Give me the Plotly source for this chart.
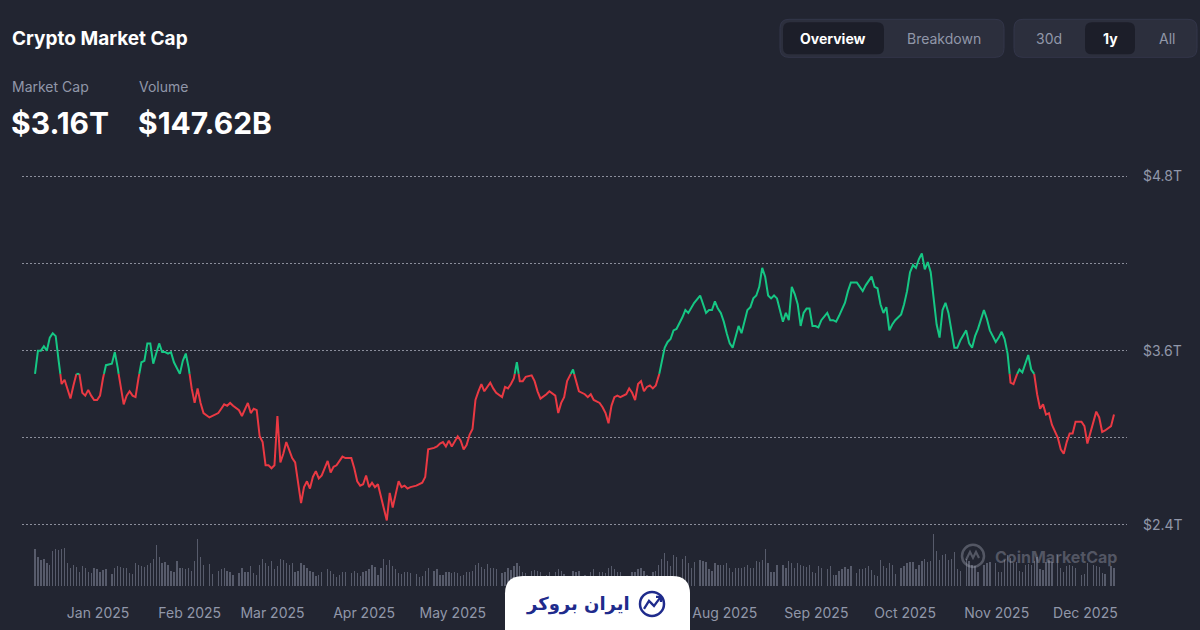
import pandas as pd
import plotly.graph_objects as go

# ---------------- data ----------------
DATES = [
    # Dec 2024
    "2024-12-10", "2024-12-11", "2024-12-12", "2024-12-13", "2024-12-14", "2024-12-15", "2024-12-16",
    "2024-12-17", "2024-12-18", "2024-12-19", "2024-12-20", "2024-12-21", "2024-12-22", "2024-12-23",
    "2024-12-24", "2024-12-25", "2024-12-26", "2024-12-27", "2024-12-28", "2024-12-29", "2024-12-30",
    "2024-12-31",
    # Jan 2025
    "2025-01-01", "2025-01-02", "2025-01-03", "2025-01-05", "2025-01-06", "2025-01-07", "2025-01-08",
    "2025-01-09", "2025-01-10", "2025-01-11", "2025-01-12", "2025-01-13", "2025-01-14", "2025-01-15",
    "2025-01-16", "2025-01-17", "2025-01-18", "2025-01-19", "2025-01-20", "2025-01-21", "2025-01-22",
    "2025-01-23", "2025-01-24", "2025-01-25", "2025-01-26", "2025-01-27", "2025-01-28", "2025-01-29",
    "2025-01-30", "2025-01-31",
    # Feb 2025
    "2025-02-01", "2025-02-02", "2025-02-03", "2025-02-04", "2025-02-05", "2025-02-07", "2025-02-08",
    "2025-02-10", "2025-02-11", "2025-02-12", "2025-02-13", "2025-02-14", "2025-02-15", "2025-02-17",
    "2025-02-18", "2025-02-19", "2025-02-20", "2025-02-21", "2025-02-22", "2025-02-23", "2025-02-24",
    "2025-02-25", "2025-02-26", "2025-02-27", "2025-02-28",
    # Mar 2025
    "2025-03-01", "2025-03-02", "2025-03-03", "2025-03-04", "2025-03-05", "2025-03-06", "2025-03-07",
    "2025-03-08", "2025-03-09", "2025-03-10", "2025-03-11", "2025-03-12", "2025-03-13", "2025-03-14",
    "2025-03-15", "2025-03-16", "2025-03-17", "2025-03-19", "2025-03-20", "2025-03-21", "2025-03-22",
    "2025-03-23", "2025-03-24", "2025-03-25", "2025-03-27", "2025-03-28", "2025-03-29", "2025-03-30",
    "2025-03-31",
    # Apr 2025
    "2025-04-01", "2025-04-02", "2025-04-03", "2025-04-04", "2025-04-05", "2025-04-06", "2025-04-07",
    "2025-04-08", "2025-04-09", "2025-04-10", "2025-04-11", "2025-04-12", "2025-04-13", "2025-04-14",
    "2025-04-15", "2025-04-16", "2025-04-18", "2025-04-19", "2025-04-20", "2025-04-21", "2025-04-22",
    "2025-04-24", "2025-04-25", "2025-04-26", "2025-04-27", "2025-04-28", "2025-04-29", "2025-04-30",
    # May 2025
    "2025-05-01", "2025-05-02", "2025-05-03", "2025-05-04", "2025-05-05", "2025-05-06", "2025-05-07",
    "2025-05-08", "2025-05-09", "2025-05-10", "2025-05-11", "2025-05-12", "2025-05-13", "2025-05-14",
    "2025-05-15", "2025-05-17", "2025-05-18", "2025-05-19", "2025-05-20", "2025-05-21", "2025-05-22",
    "2025-05-23", "2025-05-24", "2025-05-25", "2025-05-27", "2025-05-28", "2025-05-29", "2025-05-30",
    # Jun 2025
    "2025-06-01", "2025-06-02", "2025-06-04", "2025-06-05", "2025-06-06", "2025-06-07", "2025-06-08",
    "2025-06-10", "2025-06-11", "2025-06-12", "2025-06-14", "2025-06-15", "2025-06-16", "2025-06-17",
    "2025-06-19", "2025-06-20", "2025-06-21", "2025-06-22", "2025-06-23", "2025-06-24", "2025-06-25",
    "2025-06-26", "2025-06-28", "2025-06-29", "2025-06-30",
    # Jul 2025
    "2025-07-01", "2025-07-02", "2025-07-03", "2025-07-04", "2025-07-05", "2025-07-06", "2025-07-07",
    "2025-07-08", "2025-07-09", "2025-07-10", "2025-07-11", "2025-07-12", "2025-07-13", "2025-07-14",
    "2025-07-15", "2025-07-17", "2025-07-18", "2025-07-19", "2025-07-20", "2025-07-21", "2025-07-23",
    "2025-07-24", "2025-07-25", "2025-07-26", "2025-07-27", "2025-07-28", "2025-07-29", "2025-07-30",
    "2025-07-31",
    # Aug 2025
    "2025-08-01", "2025-08-02", "2025-08-03", "2025-08-04", "2025-08-05", "2025-08-06", "2025-08-07",
    "2025-08-08", "2025-08-09", "2025-08-10", "2025-08-11", "2025-08-12", "2025-08-13", "2025-08-14",
    "2025-08-15", "2025-08-16", "2025-08-17", "2025-08-18", "2025-08-20", "2025-08-21", "2025-08-22",
    "2025-08-23", "2025-08-24", "2025-08-25", "2025-08-26", "2025-08-27", "2025-08-28", "2025-08-29",
    "2025-08-30", "2025-08-31",
    # Sep 2025
    "2025-09-01", "2025-09-02", "2025-09-04", "2025-09-05", "2025-09-06", "2025-09-07", "2025-09-08",
    "2025-09-09", "2025-09-10", "2025-09-11", "2025-09-12", "2025-09-14", "2025-09-15", "2025-09-16",
    "2025-09-17", "2025-09-18", "2025-09-19", "2025-09-20", "2025-09-21", "2025-09-22", "2025-09-23",
    "2025-09-24", "2025-09-25", "2025-09-26", "2025-09-27", "2025-09-29", "2025-09-30",
    # Oct 2025
    "2025-10-01", "2025-10-02", "2025-10-03", "2025-10-04", "2025-10-05", "2025-10-06", "2025-10-07",
    "2025-10-08", "2025-10-09", "2025-10-10", "2025-10-11", "2025-10-12", "2025-10-13", "2025-10-14",
    "2025-10-15", "2025-10-16", "2025-10-17", "2025-10-18", "2025-10-19", "2025-10-21", "2025-10-22",
    "2025-10-23", "2025-10-24", "2025-10-25", "2025-10-27", "2025-10-28", "2025-10-29", "2025-10-31",
    # Nov 2025
    "2025-11-01", "2025-11-02", "2025-11-03", "2025-11-04", "2025-11-05", "2025-11-06", "2025-11-07",
    "2025-11-08", "2025-11-09", "2025-11-10", "2025-11-11", "2025-11-12", "2025-11-13", "2025-11-14",
    "2025-11-15", "2025-11-16", "2025-11-17", "2025-11-18", "2025-11-19", "2025-11-21", "2025-11-22",
    "2025-11-23", "2025-11-24", "2025-11-25", "2025-11-26", "2025-11-27", "2025-11-29", "2025-11-30",
    # Dec 2025
    "2025-12-01", "2025-12-03", "2025-12-04", "2025-12-05", "2025-12-06", "2025-12-07", "2025-12-09",
    "2025-12-10",
]

MARKET_CAP_T = [
    # Dec 2024
    3.44, 3.60, 3.60, 3.63, 3.60, 3.69, 3.72, 3.70, 3.53, 3.37, 3.40, 3.34, 3.27, 3.36, 3.44, 3.44,
    3.31, 3.29, 3.33, 3.29, 3.26, 3.26,
    # Jan
    3.29, 3.41, 3.50, 3.51, 3.59, 3.48, 3.34, 3.23, 3.29, 3.32, 3.29, 3.28, 3.41, 3.52, 3.53, 3.65,
    3.65, 3.51, 3.58, 3.65, 3.59, 3.59, 3.58, 3.59, 3.52, 3.48, 3.44, 3.53, 3.58, 3.48,
    # Feb
    3.34, 3.24, 3.34, 3.24, 3.17, 3.14, 3.15, 3.17, 3.20, 3.23, 3.22, 3.24, 3.22, 3.19, 3.15, 3.20,
    3.24, 3.17, 3.20, 3.19, 3.01, 2.97, 2.81, 2.81, 2.79,
    # Mar
    2.81, 3.15, 2.83, 2.89, 2.97, 2.92, 2.86, 2.83, 2.70, 2.55, 2.66, 2.70, 2.65, 2.73, 2.77, 2.72,
    2.74, 2.84, 2.76, 2.80, 2.81, 2.84, 2.87, 2.86, 2.86, 2.79, 2.70, 2.67, 2.68,
    # Apr
    2.74, 2.66, 2.69, 2.66, 2.68, 2.60, 2.51, 2.43, 2.62, 2.52, 2.61, 2.70, 2.66, 2.67, 2.65, 2.66,
    2.67, 2.68, 2.69, 2.73, 2.92, 2.93, 2.94, 2.96, 2.97, 2.94, 2.98, 2.94,
    # May
    2.98, 3.01, 2.98, 2.92, 2.95, 3.02, 3.06, 3.26, 3.32, 3.37, 3.32, 3.35, 3.38, 3.34, 3.31, 3.28,
    3.35, 3.34, 3.37, 3.41, 3.52, 3.39, 3.39, 3.42, 3.43, 3.39, 3.32, 3.27,
    # Jun
    3.30, 3.32, 3.29, 3.17, 3.24, 3.28, 3.39, 3.47, 3.39, 3.32, 3.30, 3.28, 3.30, 3.26, 3.24, 3.21,
    3.17, 3.10, 3.22, 3.28, 3.29, 3.28, 3.30, 3.34, 3.31,
    # Jul
    3.26, 3.37, 3.39, 3.32, 3.35, 3.36, 3.34, 3.36, 3.42, 3.53, 3.62, 3.66, 3.68, 3.74, 3.75, 3.83,
    3.88, 3.86, 3.90, 3.93, 3.98, 3.92, 3.86, 3.88, 3.88, 3.94, 3.89, 3.86, 3.80,
    # Aug
    3.72, 3.65, 3.62, 3.69, 3.77, 3.72, 3.80, 3.88, 3.90, 3.96, 3.98, 4.04, 4.17, 4.11, 3.98, 3.96,
    3.98, 3.96, 3.80, 3.86, 3.81, 4.04, 3.99, 3.92, 3.77, 3.86, 3.89, 3.89, 3.77, 3.77,
    # Sep
    3.76, 3.81, 3.86, 3.81, 3.81, 3.80, 3.84, 3.88, 3.93, 4.01, 4.07, 4.07, 4.04, 4.01, 4.05, 4.08,
    4.11, 4.04, 4.03, 3.92, 3.86, 3.90, 3.74, 3.78, 3.81, 3.85, 3.92,
    # Oct
    4.01, 4.14, 4.19, 4.17, 4.23, 4.27, 4.16, 4.21, 4.14, 3.97, 3.78, 3.69, 3.88, 3.93, 3.86, 3.74,
    3.62, 3.62, 3.67, 3.74, 3.65, 3.62, 3.70, 3.75, 3.88, 3.82, 3.74, 3.66,
    # Nov
    3.69, 3.73, 3.68, 3.58, 3.38, 3.37, 3.43, 3.47, 3.45, 3.51, 3.57, 3.47, 3.44, 3.30, 3.20, 3.23,
    3.16, 3.17, 3.09, 3.00, 2.92, 2.89, 2.97, 3.03, 3.03, 3.11, 3.11, 3.08,
    # Dec 2025
    2.96, 3.11, 3.18, 3.14, 3.04, 3.05, 3.08, 3.16,
]

VOLUME_B = [
    # Dec 2024
    240, 190, 170, 180, 150, 140, 230, 245, 235, 240, 250, 150, 120, 140, 125, 95, 130, 120, 90, 85,
    120, 110,
    # Jan
    95, 105, 110, 80, 120, 130, 125, 115, 120, 85, 80, 150, 135, 130, 125, 140, 150, 175, 265, 190,
    150, 160, 140, 100, 95, 165, 120, 115, 110, 120,
    # Feb
    100, 165, 305, 190, 140, 145, 80, 100, 110, 120, 100, 95, 70, 85, 115, 90, 95, 130, 85, 75, 140,
    175, 150, 130, 165,
    # Mar
    110, 130, 175, 170, 150, 135, 150, 95, 100, 150, 140, 120, 100, 95, 65, 70, 90, 110, 100, 80, 60,
    70, 95, 90, 85, 100, 85, 65, 90,
    # Apr
    100, 110, 135, 125, 70, 120, 180, 140, 170, 130, 110, 85, 80, 95, 90, 85, 80, 60, 65, 100, 115,
    100, 110, 75, 70, 95, 90, 85,
    # May
    95, 85, 65, 70, 90, 95, 100, 140, 150, 125, 110, 145, 120, 115, 110, 85, 90, 115, 105, 130, 150,
    130, 90, 85, 100, 105, 100, 95,
    # Jun
    70, 90, 95, 110, 100, 80, 65, 100, 95, 100, 75, 65, 95, 110, 90, 95, 85, 120, 130, 110, 95, 90,
    60, 60, 90,
    # Jul
    95, 110, 115, 100, 70, 65, 95, 100, 140, 175, 215, 165, 130, 200, 190, 175, 195, 150, 120, 160,
    170, 165, 160, 110, 100, 150, 140, 135, 140,
    # Aug
    150, 120, 95, 120, 120, 115, 125, 140, 120, 115, 165, 160, 170, 240, 150, 95, 90, 140, 135, 120,
    165, 150, 120, 150, 140, 130, 125, 135, 90, 85,
    # Sep
    130, 120, 110, 130, 75, 70, 100, 110, 125, 110, 130, 85, 110, 110, 120, 130, 105, 70, 65, 170,
    130, 120, 150, 140, 80, 120, 130,
    # Oct
    150, 160, 155, 110, 140, 165, 175, 160, 165, 340, 230, 170, 200, 210, 170, 175, 225, 110, 100,
    175, 165, 140, 130, 90, 140, 150, 155, 150,
    # Nov
    95, 90, 170, 200, 185, 150, 160, 100, 95, 140, 145, 135, 165, 190, 110, 105, 155, 170, 160, 200,
    120, 95, 130, 140, 130, 115, 75, 80,
    # Dec 2025
    150, 140, 130, 125, 85, 80, 130, 120,
]

Y_TICKS = [2.4, 3.0, 3.6, 4.2, 4.8]
Y_TICK_TEXT = ["$2.4T", "", "$3.6T", "", "$4.8T"]

# month ticks (Jun/Jul sit under the badge in the reference, so they are not shown)
X_TICKS = ["2025-01-01", "2025-02-01", "2025-03-01", "2025-04-01", "2025-05-01",
           "2025-08-01", "2025-09-01", "2025-10-01", "2025-11-01", "2025-12-01"]
X_TICK_TEXT = ["Jan 2025", "Feb 2025", "Mar 2025", "Apr 2025", "May 2025",
               "Aug 2025", "Sep 2025", "Oct 2025", "Nov 2025", "Dec 2025"]

HEADER_TITLE = "Crypto Market Cap"
STAT_LABELS = ["Market Cap", "Volume"]
STAT_VALUES = ["$3.16T", "$147.62B"]

assert len(DATES) == len(MARKET_CAP_T) == len(VOLUME_B), (len(DATES), len(MARKET_CAP_T), len(VOLUME_B))

# ---------------- styling ----------------
W, H = 1200, 630
BG = "#222531"
GREEN = "#16c784"
RED = "#ea3943"
GRAY_TXT = "#9197a9"
FONT = "Inter"

# small vertical calibration of the rendered page
V_OFF, V_SCALE = 5.7, 0.9815


def X(px):
    return px / W


def Y(py):
    return 1 - ((py - V_OFF) / V_SCALE) / H


def rrect(x0, y0, x1, y1, r):
    """rounded rectangle path in paper coords, input in pixels (top-left origin)"""
    rx, ry = r / W, r / H
    a, b, c, d = X(x0), X(x1), Y(y0), Y(y1)  # c top, d bottom
    return (f"M {a+rx},{c} L {b-rx},{c} Q {b},{c} {b},{c-ry} L {b},{d+ry} Q {b},{d} {b-rx},{d} "
            f"L {a+rx},{d} Q {a},{d} {a},{d+ry} L {a},{c-ry} Q {a},{c} {a+rx},{c} Z")


def note(text, px, py, size, color, xanchor="left", family=FONT):
    return dict(text=text, x=X(px), y=Y(py), xref="paper", yref="paper", xanchor=xanchor,
                yanchor="middle", showarrow=False, font=dict(family=family, size=size, color=color))


# ---------------- split line into above / below baseline runs ----------------
ts = pd.to_datetime(pd.Series(DATES))
vals = list(MARKET_CAP_T)
base = vals[0]
green_x, green_y, red_x, red_y = [], [], [], []

run_x, run_y = [ts[0]], [vals[0]]
up = vals[0] >= base
for i in range(1, len(vals)):
    v0, v1 = vals[i - 1], vals[i]
    t0, t1 = ts[i - 1], ts[i]
    up1 = v1 >= base
    if up1 == up:
        run_x.append(t1)
        run_y.append(v1)
    else:
        frac = (base - v0) / (v1 - v0)
        tc = t0 + (t1 - t0) * frac
        run_x.append(tc)
        run_y.append(base)
        if up:
            green_x += run_x + [None]
            green_y += run_y + [None]
        else:
            red_x += run_x + [None]
            red_y += run_y + [None]
        run_x, run_y = [tc, t1], [base, v1]
        up = up1
if up:
    green_x += run_x
    green_y += run_y
else:
    red_x += run_x
    red_y += run_y

fig = go.Figure()

fig.add_trace(go.Bar(
    x=ts, y=VOLUME_B, xaxis="x", yaxis="y2",
    marker=dict(color="rgba(140,146,166,0.5)", line=dict(width=0)),
    width=0.45 * 86400000, hoverinfo="skip",
))
fig.add_trace(go.Scatter(x=red_x, y=red_y, mode="lines", xaxis="x", yaxis="y",
                         line=dict(color=RED, width=2), connectgaps=False, hoverinfo="skip"))
fig.add_trace(go.Scatter(x=green_x, y=green_y, mode="lines", xaxis="x", yaxis="y",
                         line=dict(color=GREEN, width=2), connectgaps=False, hoverinfo="skip"))

shapes = []
annotations = []

# header texts
annotations.append(note(f"<b>{HEADER_TITLE}</b>", 10, 38, 19, "#ffffff"))
for lx, lab, val in zip([12, 139], STAT_LABELS, STAT_VALUES):
    annotations.append(note(lab, lx - 2, 86, 14, GRAY_TXT))
    annotations.append(note(f"<b>{val}</b>", lx - 3, 123, 30, "#ffffff"))

# button groups
CONT = "#2c2f3d"
ACTIVE = "#1c1e29"
shapes.append(dict(type="path", path=rrect(780, 19, 1004, 57, 9), xref="paper", yref="paper",
                   fillcolor=CONT, line=dict(color="#33364a", width=1), layer="above"))
shapes.append(dict(type="path", path=rrect(783, 22, 884, 54, 7), xref="paper", yref="paper",
                   fillcolor=ACTIVE, line=dict(width=0), layer="above"))
shapes.append(dict(type="path", path=rrect(1014, 19, 1197, 57, 9), xref="paper", yref="paper",
                   fillcolor=CONT, line=dict(color="#33364a", width=1), layer="above"))
shapes.append(dict(type="path", path=rrect(1085, 22, 1135, 54, 7), xref="paper", yref="paper",
                   fillcolor=ACTIVE, line=dict(width=0), layer="above"))
for cx, txt, active in [(833, "Overview", True), (944, "Breakdown", False), (1049, "30d", False),
                        (1110, "1y", True), (1167, "All", False)]:
    annotations.append(note(f"<b>{txt}</b>" if active else txt, cx, 38, 14,
                            "#ffffff" if active else GRAY_TXT, xanchor="center"))

# CoinMarketCap watermark
WM = "rgba(165,170,185,0.38)"
shapes.append(dict(type="circle", xref="paper", yref="paper", x0=X(962), x1=X(984), y0=Y(566), y1=Y(544),
                   line=dict(color=WM, width=2.5), layer="above"))
shapes.append(dict(type="path", xref="paper", yref="paper",
                   path=f"M {X(966)},{Y(559)} L {X(970)},{Y(551)} L {X(973)},{Y(557)} L {X(976)},{Y(551)} L {X(979)},{Y(557)}",
                   line=dict(color=WM, width=2.2), layer="above"))
annotations.append(note("<b>CoinMarketCap</b>", 993, 556, 16, WM))

# Iran Broker badge
BLUE = "#1f2b8c"
shapes.append(dict(type="path", path=rrect(505, 575, 690, 665, 18), xref="paper", yref="paper",
                   fillcolor="#ffffff", line=dict(width=0), layer="above"))
annotations.append(note("<b>ایران بروکر</b>", 632, 603, 18, BLUE, xanchor="right", family="DejaVu Sans"))
shapes.append(dict(type="circle", xref="paper", yref="paper", x0=X(640), x1=X(664), y0=Y(615), y1=Y(591),
                   line=dict(color=BLUE, width=2.5), layer="above"))
shapes.append(dict(type="path", xref="paper", yref="paper",
                   path=f"M {X(644)},{Y(608)} L {X(649)},{Y(600)} L {X(654)},{Y(605)} L {X(660)},{Y(597)}",
                   line=dict(color=BLUE, width=2.3), layer="above"))
shapes.append(dict(type="path", xref="paper", yref="paper",
                   path=f"M {X(656)},{Y(596)} L {X(661)},{Y(596)} L {X(661)},{Y(601)}",
                   line=dict(color=BLUE, width=2.3), layer="above"))

fig.update_layout(
    width=W, height=H,
    margin=dict(l=0, r=0, t=0, b=0),
    paper_bgcolor=BG, plot_bgcolor=BG,
    showlegend=False,
    xaxis=dict(type="date", domain=[X(22), X(1127)],
               range=["2024-12-05 14:24", "2025-12-14 09:36"],
               anchor="y2", showgrid=False, zeroline=False, showline=False, ticks="",
               tickmode="array", tickvals=X_TICKS, ticktext=X_TICK_TEXT, ticklabelshift=-2,
               tickfont=dict(family=FONT, size=14, color=GRAY_TXT), ticklabelstandoff=17),
    yaxis=dict(domain=[Y(526.9), Y(173.1)], range=[2.38, 4.82], side="right", anchor="x",
               tickmode="array", tickvals=Y_TICKS, ticktext=Y_TICK_TEXT,
               showgrid=True, gridcolor="rgba(210,214,226,0.6)", griddash="2px,2px", gridwidth=1,
               zeroline=False, showline=False, ticks="",
               tickfont=dict(family=FONT, size=14, color=GRAY_TXT), ticklabelstandoff=15),
    yaxis2=dict(domain=[Y(585), Y(533)], range=[0, 340], visible=False, anchor="x"),
    shapes=shapes,
    annotations=annotations,
    bargap=0,
)

fig.write_html("out.html")
